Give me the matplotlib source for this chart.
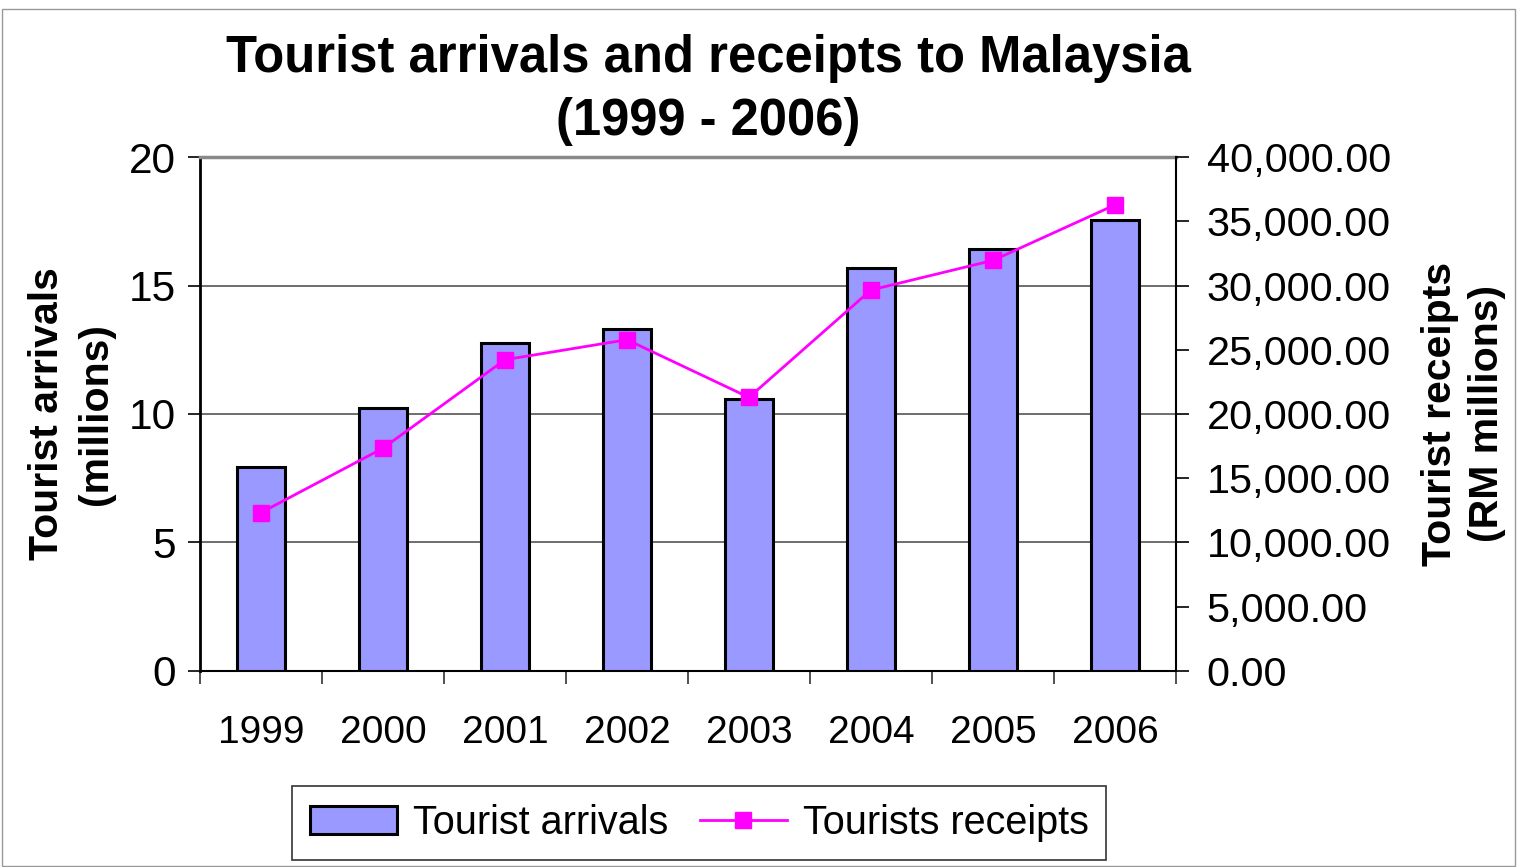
import numpy as np
import matplotlib.pyplot as plt
from matplotlib.patches import Rectangle
from matplotlib.ticker import FuncFormatter

plt.rcParams['font.family'] = ['Liberation Sans', 'DejaVu Sans']

# Data
years = ['1999', '2000', '2001', '2002', '2003', '2004', '2005', '2006']
arrivals = [7.93, 10.22, 12.78, 13.29, 10.58, 15.70, 16.43, 17.55]          # millions
receipts = [12321, 17335, 24222, 25781, 21291, 29651, 31954, 36271]         # RM millions

bar_color = '#9999FF'
line_color = '#FF00FF'

fig = plt.figure(figsize=(15.17, 8.67), dpi=100)
ax = fig.add_axes([0.1318, 0.2261, 0.6434, 0.5928])

x = np.arange(len(years))
ax.bar(x, arrivals, width=0.4, color=bar_color, edgecolor='black', linewidth=2.2,
       zorder=3, label='Tourist arrivals')

ax.set_xlim(-0.5, len(years) - 0.5)
ax.set_ylim(0, 20)
ax.set_yticks([0, 5, 10, 15, 20])

# category ticks between bars, labels centred under bars
ax.set_xticks(np.arange(len(years) + 1) - 0.5)
ax.set_xticklabels([])
ax.set_xticks(x, minor=True)
ax.set_xticklabels(years, minor=True)
ax.tick_params(axis='x', which='major', direction='out', length=9, width=1.2, color='#333333')
ax.tick_params(axis='x', which='minor', length=0, pad=32, labelsize=28)
ax.tick_params(axis='y', direction='out', length=9, width=1.2, pad=8, labelsize=30.5)

ax.yaxis.grid(True, color='#555555', linewidth=1.2, zorder=0)
ax.set_axisbelow(True)
ax.spines['top'].set_color('#888888')
ax.spines['top'].set_linewidth(2.5)
ax.spines['left'].set_linewidth(2)
ax.spines['bottom'].set_linewidth(1.5)
ax.spines['right'].set_visible(False)

ax2 = ax.twinx()
ax2.plot(x, receipts, color=line_color, linewidth=2, marker='s', markersize=11,
         zorder=4, label='Tourists receipts')
ax2.set_ylim(0, 40000)
ax2.set_yticks(np.arange(0, 40001, 5000))
ax2.yaxis.set_major_formatter(FuncFormatter(lambda v, p: f'{v:,.2f}'))
ax2.tick_params(axis='y', direction='out', length=9, width=1.2, pad=13, labelsize=29.8)
ax2.spines['top'].set_visible(False)
ax2.spines['left'].set_visible(False)
ax2.spines['bottom'].set_visible(False)
ax2.spines['right'].set_linewidth(1.5)

fig.text(0.467, 0.8962, 'Tourist arrivals and receipts to Malaysia\n(1999 - 2006)',
         ha='center', va='center', fontsize=36.5, fontweight='bold', linespacing=1.35)
fig.text(0.047, 0.5225, 'Tourist arrivals\n(millions)', rotation=90, ha='center',
         va='center', fontsize=29.5, fontweight='bold', linespacing=1.35,
         multialignment='center')
fig.text(0.9645, 0.5225, 'Tourist receipts\n(RM millions)', rotation=90, ha='center',
         va='center', fontsize=29.5, fontweight='bold', linespacing=1.3,
         multialignment='center')

h1, l1 = ax.get_legend_handles_labels()
h2, l2 = ax2.get_legend_handles_labels()
leg = fig.legend(h1 + h2, l1 + l2, loc='center', bbox_to_anchor=(0.461, 0.051), ncol=2,
                 fontsize=28.5, frameon=True, fancybox=False, edgecolor='black',
                 handlelength=2.2, handletextpad=0.4, columnspacing=0.8,
                 borderpad=0.45)
leg.get_frame().set_linewidth(1.2)

fig.patches.append(Rectangle((0.001, 0.001), 0.998, 0.989, transform=fig.transFigure,
                             fill=False, edgecolor='#999999', linewidth=1))

fig.savefig('out.png', dpi=100)
